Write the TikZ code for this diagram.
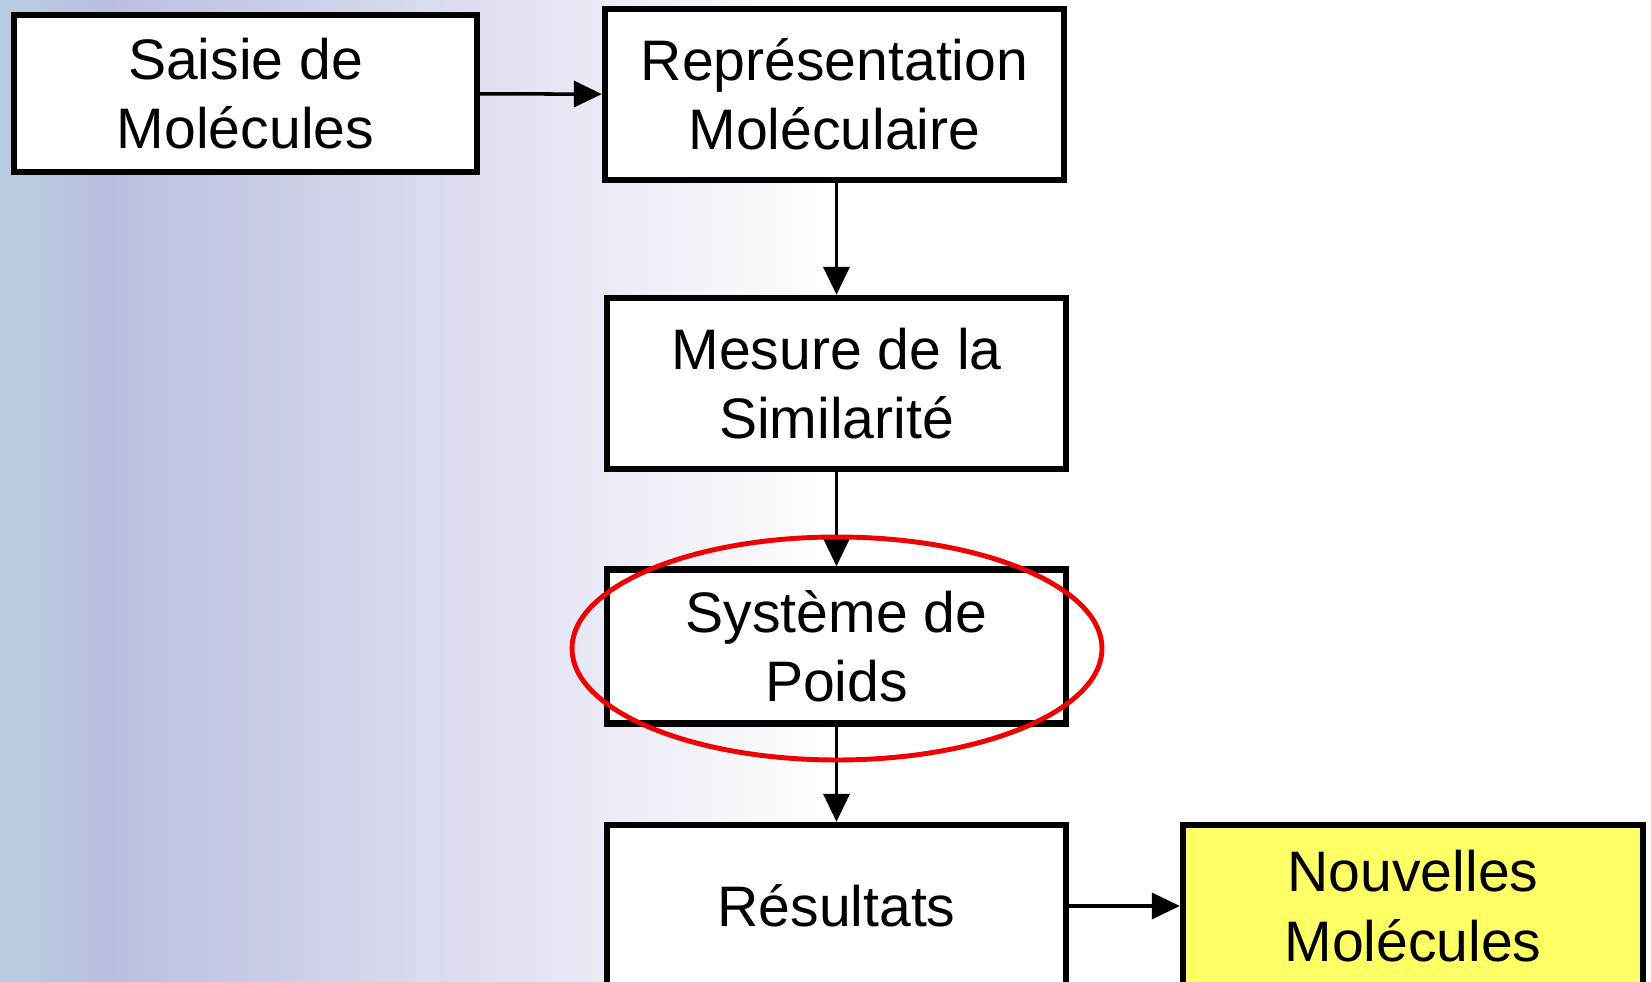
\documentclass[tikz,border=0pt]{standalone}
\usepackage{fontspec}
\setmainfont{Liberation Sans}
\usepackage{tikz}
\usetikzlibrary{arrows.meta,positioning,shapes.geometric}
\definecolor{bgblue}{HTML}{B9CDE0}
\definecolor{bglav}{HTML}{BBBEE0}
\definecolor{outyellow}{HTML}{FFFF66}
\definecolor{ringred}{HTML}{F00000}

\begin{document}
\begin{tikzpicture}[
  font=\fontsize{32.5}{39.5}\selectfont,
  >={Triangle[length=0.56cm, width=0.52cm]},
  flow/.style={->, line width=2pt, draw=black},
  stage/.style={draw=black, line width=3.6pt, fill=white, align=center,
                minimum width=9.18cm, minimum height=3.42cm, inner sep=0pt},
  result/.style={stage, fill=outyellow},
  ring/.style={draw=ringred, line width=2.8pt}
]

%% page is 1651 x 982 px at 50 px per cm
\clip (0,0) rectangle (33.02,19.64);
\useasboundingbox (0,0) rectangle (33.02,19.64);

%% ---- background band -----------------------------------------------------
\fill[white] (0,0) rectangle (33.02,19.64);
\fill[left color=bgblue, right color=bglav] (0,0) rectangle (2.2,19.64);
\fill[left color=bglav, right color=white] (2.2,0) rectangle (16.6,19.64);

%% ---- top row --------------------------------------------------------------
\node[stage, minimum width=9.26cm, minimum height=3.14cm] (saisie) at (4.91,17.77)
  {Saisie de\\Molécules};
\node[stage] (repr) at (16.69,17.75)
  {Représentation\\Moléculaire};

\draw[flow] (saisie) -- (repr);

%% ---- main column ----------------------------------------------------------
\node[stage] (mesure) at (16.73,11.97)
  {Mesure de la\\Similarité};
\node[stage, minimum height=3.08cm] (poids) at (16.73,6.71)
  {Système de\\Poids};
\node[stage, minimum height=3.24cm] (res) at (16.73,1.52)
  {Résultats};
\node[result, minimum width=9.2cm, minimum height=3.24cm] (nouv) at (28.26,1.52)
  {Nouvelles\\Molécules};

\draw[flow] (repr.south -| mesure.north) -- (mesure.north);
\draw[flow] (mesure) -- (poids);
\draw[flow] (poids) -- (res);
\draw[flow] (res) -- (nouv);

%% the weighting step is the one that is ringed
\node[ring, ellipse, minimum width=10.6cm, minimum height=4.46cm, inner sep=0pt]
  (focus) at (16.74,6.67) {};

\end{tikzpicture}
\end{document}
